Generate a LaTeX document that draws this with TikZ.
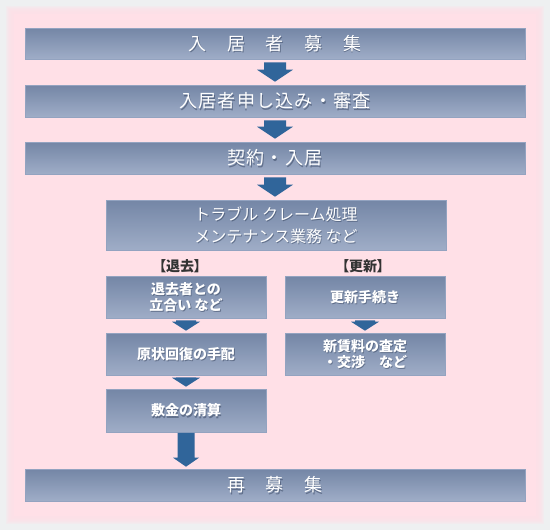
\documentclass[tikz,border=0pt]{standalone}
\usepackage{fontspec}
\usetikzlibrary{calc}
\newfontfamily\jp{Noto Sans CJK JP}
\newfontfamily\jpw[LetterSpace=7]{Noto Sans CJK JP}
\newfontfamily\jpp[RawFeature=+palt]{Noto Sans CJK JP}
\definecolor{bgc}{HTML}{EEF0F1}
\definecolor{pinkc}{HTML}{FFE0E7}
\definecolor{arrowc}{HTML}{30659A}
\definecolor{boxtop}{HTML}{7486A6}
\definecolor{boxbot}{HTML}{9FADC7}
\definecolor{boxline}{HTML}{93A3C0}
\definecolor{shadowc}{HTML}{26344F}
\definecolor{labelc}{HTML}{333333}
\tikzset{
  boxst/.style={rectangle, inner sep=0pt, top color=boxtop, bottom color=boxbot, draw=boxline, line width=0.6pt},
  textst/.style={inner sep=0pt, text=white, align=center},
  shadowst/.style={inner sep=0pt, text=shadowc, opacity=0.45, align=center},
  bigtxt/.style={font=\jpw\fontsize{18}{22}\selectfont},
  midtxt/.style={font=\jp\fontsize{16}{22}\selectfont},
  smalltxt/.style={font=\jp\bfseries\fontsize{14}{15.5}\selectfont},
  labeltxt/.style={inner sep=0pt, text=labelc, font=\jpp\bfseries\fontsize{14}{15}\selectfont},
  arrowfill/.style={fill=arrowc},
}
\newcommand\flowbox[6]{%
  \node[boxst, minimum width=#3, minimum height=#4] (#1) at #2 {};
  \node[shadowst, #5] (#1-s) at ($(#1.center)+(0.9,1.3)$) {#6};
  \node[textst, #5] (#1-t) at (#1.center) {#6};
}
% #1 from, #2 to, #3 half shaft, #4 half head, #5 head length, #6 top gap, #7 tip gap
\newcommand\blockarrow[7]{%
  \coordinate (#1-#2-t) at (#1.south |- #2.north);
  \fill[arrowfill] ($(#1.south)+(-#3,#6)$) -- ($(#1.south)+(#3,#6)$)
    -- ($(#1-#2-t)+(#3,-#5-#7)$) -- ($(#1-#2-t)+(#4,-#5-#7)$)
    -- ($(#1-#2-t)+(0,-#7)$) -- ($(#1-#2-t)+(-#4,-#5-#7)$)
    -- ($(#1-#2-t)+(-#3,-#5-#7)$) -- cycle;
}
\begin{document}
\begin{tikzpicture}[x=1pt,y=-1pt]
\useasboundingbox (0,0) rectangle (550,530);
\fill[bgc] (0,0) rectangle (550,530);
\foreach \i in {0,...,7} {
  \fill[pinkc, opacity=0.25] (6+\i,6+\i) rectangle (544-\i,524-\i);
}
\fill[pinkc] (14,14) rectangle (536,516);

\flowbox{b1}{(275,43.5)}{500pt}{31pt}{bigtxt}{入　居　者　募　集}
\flowbox{b2}{(275,101)}{500pt}{32pt}{bigtxt}{入居者申し込み・審査}
\flowbox{b3}{(275,158)}{500pt}{32pt}{bigtxt}{契約・入居}
\flowbox{b4}{(276,225)}{340pt}{50pt}{midtxt}{トラブル クレーム処理\\メンテナンス業務 など}
\flowbox{l1}{(186,297)}{160pt}{42pt}{smalltxt}{退去者との\\立合い など}
\flowbox{r1}{(365,297)}{160pt}{42pt}{smalltxt}{更新手続き}
\flowbox{l2}{(186,354)}{160pt}{42pt}{smalltxt}{原状回復の手配}
\flowbox{r2}{(365,354)}{160pt}{42pt}{smalltxt}{新賃料の査定\\・交渉　など}
\flowbox{l3}{(186,410.5)}{160pt}{43pt}{smalltxt}{敷金の清算}
\flowbox{f}{(275,485)}{500pt}{32pt}{bigtxt}{再　募　集}

\node[labeltxt] (lab1) at (180,266) {【退去】};
\node[labeltxt] (lab2) at (363,266) {【更新】};

\blockarrow{b1}{b2}{11}{18}{12}{3}{3}
\blockarrow{b2}{b3}{11}{18}{12}{3}{3}
\blockarrow{b3}{b4}{11}{18}{12}{3}{3}
\blockarrow{l1}{l2}{10}{14}{9}{2}{2}
\blockarrow{r1}{r2}{10}{14}{9}{2}{2}
\blockarrow{l2}{l3}{10}{14}{9}{2}{2}
\blockarrow{l3}{f}{8.5}{13}{9}{0.5}{2}
\end{tikzpicture}
\end{document}
